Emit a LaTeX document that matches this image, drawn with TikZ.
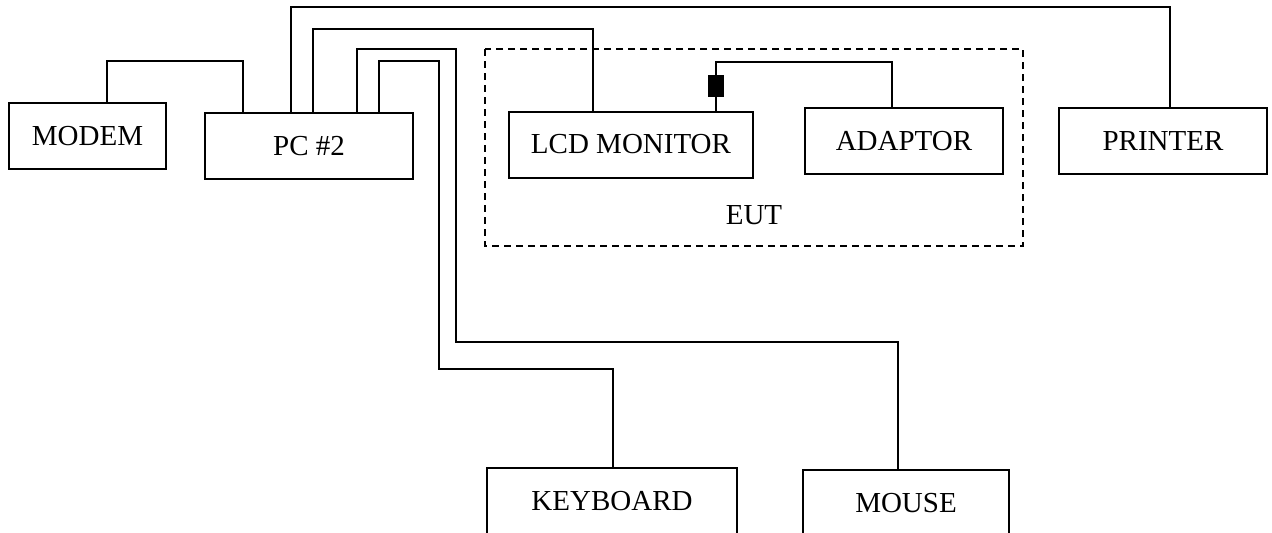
\documentclass[tikz,border=0pt]{standalone}
\usepackage{fontspec}
\setmainfont{Liberation Serif}
\usepackage{tikz}
\definecolor{cLine}{HTML}{000000}
\tikzset{
  blk/.style={draw=cLine, line width=1pt, minimum height=33pt, inner sep=0pt,
              align=center, font=\fontsize{14.5}{17}\selectfont},
  cable/.style={cLine, line width=1pt},
  plug/.style={draw=cLine, fill=cLine, minimum width=7.5pt, minimum height=10.5pt, inner sep=0pt},
  eutbox/.style={cLine, line width=1pt, dash pattern=on 3.5pt off 2.5pt},
  tag/.style={font=\fontsize{14.5}{17}\selectfont}
}
\begin{document}
\begin{tikzpicture}[x=0.5pt, y=-0.5pt]
\useasboundingbox (0,0) rectangle (1272,532);
\node[blk, minimum width=78.5pt] (modem) at (87.5,136) {MODEM};
\node[blk, minimum width=104pt] (pc) at (309,146) {PC \#2};
\node[blk, minimum width=122pt] (lcd) at (631,144.5) {LCD MONITOR};
\node[blk, minimum width=99pt] (adaptor) at (904,141) {ADAPTOR};
\node[blk, minimum width=104pt] (printer) at (1163,141) {PRINTER};
\node[blk, minimum width=125pt] (kbd) at (612,501) {KEYBOARD};
\node[blk, minimum width=103pt] (mouse) at (906,503) {MOUSE};
\draw[eutbox] (485,49) rectangle (1023,246);
\node[tag] (eut) at (754,215) {EUT};
\node[plug] (plg) at (715.5,85.5) {};
% cables
\draw[cable] ([xshift=9.75pt]modem.north) -- ++(0,-41) -| ([xshift=19.5pt]pc.north west);
\draw[cable] (pc.north west) ++(87,0) -- ++(0,-105) -| ([xshift=3.5pt]printer.north);
\draw[cable] (pc.north west) ++(109,0) -- ++(0,-83) -| ([xshift=-19pt]lcd.north);
\draw[cable] (pc.north west) ++(153,0) -- ++(0,-63) -- ++(99,0) -- ++(0,293) -| ([xshift=-4pt]mouse.north);
\draw[cable] (pc.north west) ++(175,0) -- ++(0,-51) -- ++(60,0) -- ++(0,308) -| ([xshift=0.5pt]kbd.north);
\draw[cable] (lcd.north -| plg) -- (plg.south);
\draw[cable] (plg.north) -- ++(0,-13) -| ([xshift=-6pt]adaptor.north);
\end{tikzpicture}
\end{document}
